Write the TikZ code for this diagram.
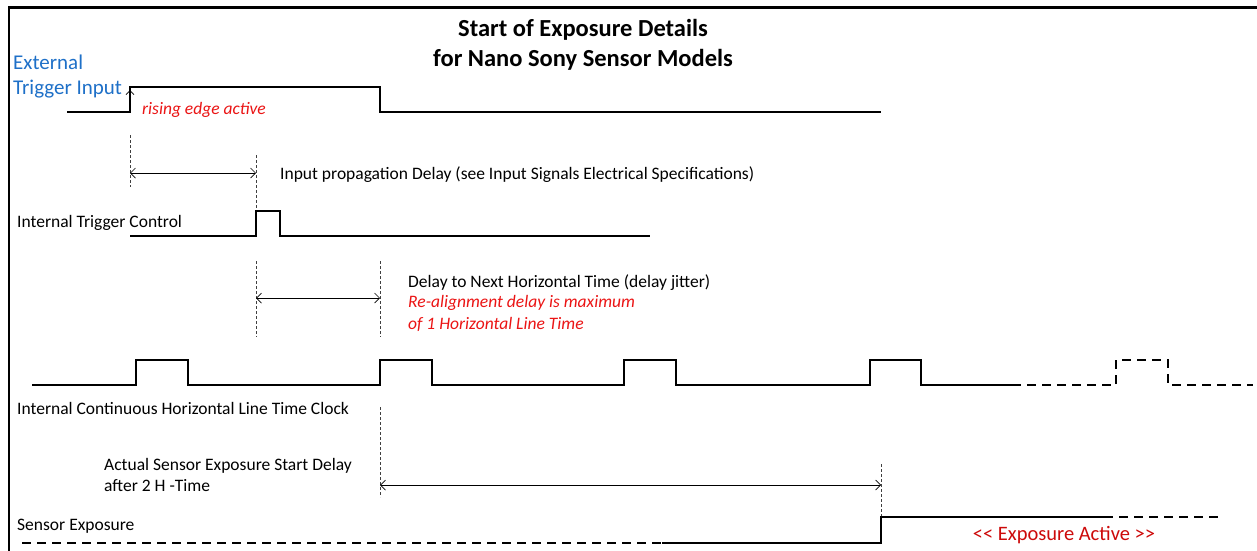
\documentclass[tikz,border=0pt]{standalone}
\usepackage{fontspec}
\setmainfont{Carlito}
\usetikzlibrary{arrows.meta}
\definecolor{trigblue}{RGB}{30,112,200}
\definecolor{notered}{RGB}{235,20,20}
\definecolor{activered}{RGB}{205,10,10}
\begin{document}
\begin{tikzpicture}[x=1pt,y=-1pt,
  sig/.style={line width=1.2pt, line join=miter},
  sigdash/.style={sig, dash pattern=on 9pt off 6pt},
  guide/.style={line width=0.6pt, black!75, dash pattern=on 3pt off 2pt},
  dimarrow/.style={{Straight Barb[length=5pt,width=10pt]}-{Straight Barb[length=5pt,width=10pt]}, line width=0.7pt},
  lbl/.style={anchor=base west, inner sep=0pt, font=\fontsize{17.5}{20}\selectfont},
  redlbl/.style={lbl, text=notered, font=\fontsize{17.5}{20}\selectfont\itshape},
  titlelbl/.style={anchor=base, inner sep=0pt, font=\fontsize{24.5}{28}\selectfont\bfseries}]
\useasboundingbox (0,0) rectangle (1257,550);
\fill[white] (0,0) rectangle (1257,550);
\draw[line width=2.8pt] (9,552) -- (9,7.5) -- (1257,7.5);

% title
\node[titlelbl] (t1) at (583,36) {Start of Exposure Details};
\node[titlelbl] (t2) at (583,66) {for Nano Sony Sensor Models};

% external trigger
\node[lbl, text=trigblue, font=\fontsize{21}{24}\selectfont] (ext1) at (13,69) {External};
\node[lbl, text=trigblue, font=\fontsize{21}{24}\selectfont] (ext2) at (13,94) {Trigger Input};
\draw[sig] (67,112) -- (130,112) -- (130,87) -- (380,87) -- (380,112) -- (881,112);
\draw[line width=0.8pt, -{Straight Barb[length=4pt,width=8pt]}] (130,100) -- (130,90);
\node[redlbl] (rise) at (142,114) {rising edge active};

% input propagation delay
\coordinate (g1a) at (130,135); \coordinate (g1b) at (130,187);
\coordinate (g2a) at (256,155); \coordinate (g2b) at (256,211);
\draw[guide] (g1a) -- (g1b);
\draw[guide] (g2a) -- (g2b);
\coordinate (d1a) at (130,173); \coordinate (d1b) at (256,173);
\draw[dimarrow] (d1a) -- (d1b);
\node[lbl] (ipd) at (280,179) {Input propagation Delay (see Input Signals Electrical Specifications)};

% internal trigger control
\node[lbl] (itc) at (17,227) {Internal Trigger Control};
\draw[sig] (130,236) -- (256,236) -- (256,211) -- (280,211) -- (280,236) -- (650,236);

% delay to next horizontal time
\coordinate (g3a) at (256,261); \coordinate (g3b) at (256,337);
\coordinate (g4a) at (380,261); \coordinate (g4b) at (380,337);
\draw[guide] (g3a) -- (g3b);
\draw[guide] (g4a) -- (g4b);
\coordinate (d2a) at (256,298); \coordinate (d2b) at (380,298);
\draw[dimarrow] (d2a) -- (d2b);
\node[lbl] (dnh) at (408,287) {Delay to Next Horizontal Time (delay jitter)};
\node[redlbl] (ra1) at (408,307) {Re-alignment delay is maximum};
\node[redlbl] (ra2) at (408,329) {of 1 Horizontal Line Time};

% horizontal line time clock
\draw[sig] (32,385) -- (136,385) -- (136,360) -- (188,360) -- (188,385)
  -- (380,385) -- (380,360) -- (432,360) -- (432,385)
  -- (624,385) -- (624,360) -- (676,360) -- (676,385)
  -- (870,385) -- (870,360) -- (921,360) -- (921,385) -- (1012,385);
\draw[sigdash] (1012,385) -- (1116,385) -- (1116,360) -- (1168,360) -- (1168,385) -- (1253,385);
\node[lbl] (hclk) at (17,414) {Internal Continuous Horizontal Line Time Clock};

% actual sensor exposure start delay
\coordinate (g5a) at (380,407); \coordinate (g5b) at (380,497);
\coordinate (g6a) at (881,464); \coordinate (g6b) at (881,516);
\draw[guide] (g5a) -- (g5b);
\draw[guide] (g6a) -- (g6b);
\coordinate (d3a) at (380,485); \coordinate (d3b) at (881,485);
\draw[dimarrow] (d3a) -- (d3b);
\node[lbl] (ase1) at (104,470) {Actual Sensor Exposure Start Delay};
\node[lbl] (ase2) at (104,491) {after 2 H -Time};

% sensor exposure
\node[lbl] (sexp) at (17,530) {Sensor Exposure};
\draw[sigdash] (22,543) -- (662,543);
\draw[sig] (662,543) -- (881,543) -- (881,517) -- (1104,517);
\draw[sigdash] (1104,517) -- (1222,517);
\node[anchor=base, inner sep=0pt, text=activered, font=\fontsize{20.5}{24}\selectfont] (act) at (1064,540) {{<}{<} Exposure Active {>}{>}};
\end{tikzpicture}
\end{document}
